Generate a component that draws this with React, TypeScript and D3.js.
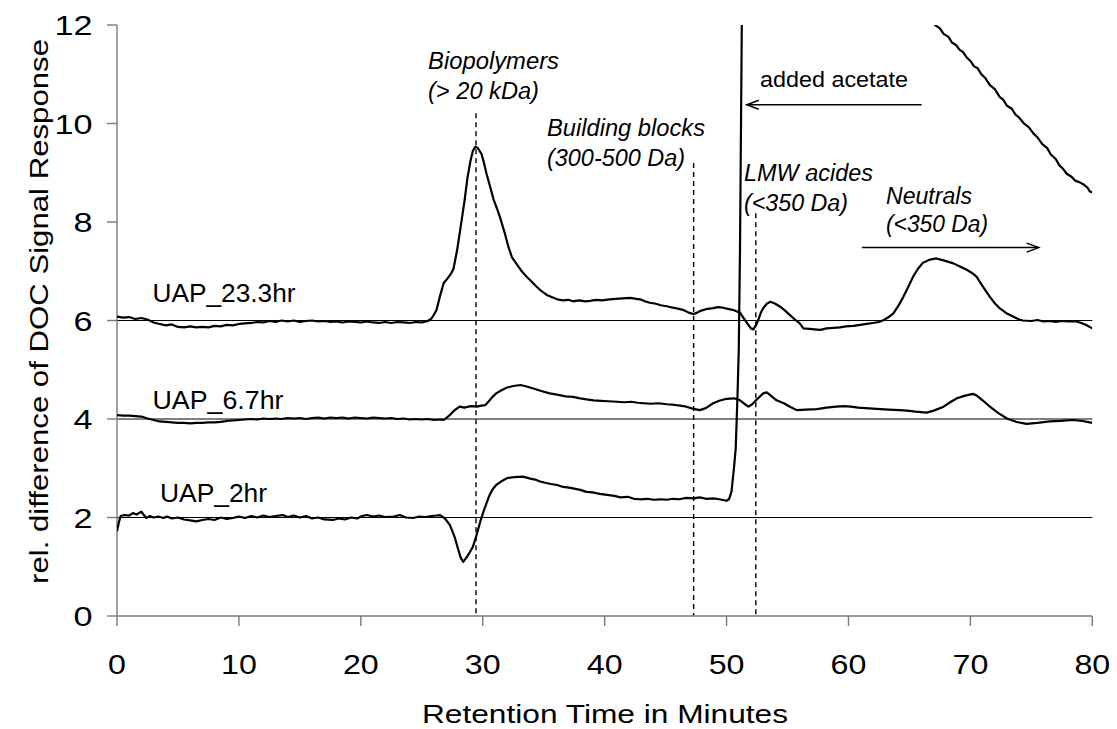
import React from "react";
import * as d3 from "d3";

// Axis ticks
const xTicks = [0, 10, 20, 30, 40, 50, 60, 70, 80];
const yTicks = [0, 2, 4, 6, 8, 10, 12];
// Offset baselines of the stacked chromatograms
const baselines = [2, 4, 6];

// Retention time (min) vs. relative DOC signal, UAP sample after 23.3 h (offset +6)
const uap233hr: [number, number][] = [
  [0, 6.08], [0.5, 6.06], [1, 6.07], [1.5, 6.03], [2, 6.05], [2.5, 6.02], [3, 5.96], [3.5, 5.93],
  [4, 5.9], [4.5, 5.92], [5, 5.87], [5.5, 5.86], [6, 5.88], [6.5, 5.86], [7, 5.87], [7.5, 5.86],
  [8, 5.89], [8.5, 5.88], [9, 5.91], [9.5, 5.9], [10, 5.93], [10.5, 5.94], [11, 5.95], [11.5, 5.97],
  [12, 5.96], [12.5, 5.99], [13, 5.97], [13.5, 6.0], [14, 5.98], [14.5, 6.0], [15, 5.97], [15.5, 5.99],
  [16, 6.0], [16.5, 5.98], [17, 5.99], [17.5, 5.97], [18, 5.98], [18.5, 5.96], [19, 5.98], [19.5, 5.97],
  [20, 5.96], [20.5, 5.98], [21, 5.96], [21.5, 5.95], [22, 5.97], [22.5, 5.95], [23, 5.97], [23.5, 5.96],
  [24, 5.95], [24.5, 5.97], [25, 5.96], [25.5, 5.99], [25.8, 6.04], [26.0, 6.12], [26.2, 6.21], [26.5, 6.5],
  [26.8, 6.76], [27.1, 6.85], [27.4, 6.95], [27.6, 7.05], [27.9, 7.43], [28.2, 7.92], [28.5, 8.42], [28.75, 8.9],
  [29.0, 9.25], [29.2, 9.45], [29.4, 9.53], [29.6, 9.5], [29.9, 9.38], [30.1, 9.2], [30.3, 8.99], [30.6, 8.72],
  [30.9, 8.45], [31.2, 8.25], [31.4, 8.11], [31.8, 7.78], [32.1, 7.5], [32.4, 7.28], [32.8, 7.14], [33.2, 7.0],
  [33.6, 6.89], [34.0, 6.79], [34.4, 6.69], [34.8, 6.6], [35.25, 6.52], [35.7, 6.47], [36.1, 6.43], [36.6, 6.41],
  [37.0, 6.42], [37.4, 6.39], [37.9, 6.41], [38.4, 6.39], [38.8, 6.4], [39.3, 6.42], [39.8, 6.41], [40.4, 6.43],
  [40.9, 6.44], [41.5, 6.45], [42.1, 6.46], [42.6, 6.44], [42.9, 6.43], [43.3, 6.39], [43.7, 6.36], [44.2, 6.34],
  [44.6, 6.31], [45.1, 6.29], [45.6, 6.26], [46.0, 6.24], [46.5, 6.21], [46.9, 6.16], [47.3, 6.13], [47.6, 6.16],
  [47.8, 6.19], [48.3, 6.23], [48.9, 6.25], [49.3, 6.27], [49.7, 6.26], [50.2, 6.23], [50.6, 6.21], [51.1, 6.16],
  [51.4, 6.05], [51.7, 5.94], [52.0, 5.84], [52.2, 5.82], [52.4, 5.9], [52.6, 6.01], [52.8, 6.15], [53.0, 6.25],
  [53.3, 6.34], [53.6, 6.38], [54.0, 6.34], [54.4, 6.28], [54.8, 6.2], [55.2, 6.11], [55.6, 6.02], [56.0, 5.94],
  [56.3, 5.84], [56.8, 5.83], [57.2, 5.82], [57.7, 5.81], [58.2, 5.84], [58.8, 5.85], [59.3, 5.86], [59.8, 5.88],
  [60.4, 5.89], [60.95, 5.91], [61.5, 5.93], [62.0, 5.95], [62.5, 5.97], [62.9, 6.01], [63.3, 6.07], [63.7, 6.15],
  [64.1, 6.3], [64.5, 6.48], [64.9, 6.68], [65.3, 6.89], [65.7, 7.05], [66.1, 7.17], [66.6, 7.23], [67.2, 7.26],
  [67.8, 7.22], [68.2, 7.19], [68.6, 7.16], [69.1, 7.1], [69.7, 7.03], [70.1, 6.97], [70.5, 6.89], [71.0, 6.7],
  [71.6, 6.48], [72.0, 6.35], [72.4, 6.25], [73.0, 6.14], [73.5, 6.08], [74.0, 6.02], [74.3, 6.0], [75.0, 5.99],
  [75.5, 6.01], [76.0, 5.98], [76.5, 5.99], [77.0, 5.97], [77.5, 5.99], [78.0, 5.98], [78.7, 5.98], [79.1, 5.95],
  [79.5, 5.91], [80, 5.84],
];

// UAP sample after 6.7 h (offset +4)
const uap67hr: [number, number][] = [
  [0, 4.08], [0.5, 4.07], [1, 4.07], [1.5, 4.06], [2, 4.05], [2.5, 4.01], [3, 3.98], [3.5, 3.95],
  [4, 3.94], [4.5, 3.93], [5, 3.92], [5.5, 3.92], [6, 3.91], [6.5, 3.92], [7, 3.92], [7.5, 3.93],
  [8, 3.93], [8.5, 3.94], [9, 3.96], [9.5, 3.97], [10, 3.98], [10.5, 3.99], [11, 4.0], [11.5, 3.99],
  [12, 4.01], [12.5, 4.0], [13, 4.01], [13.5, 4.0], [14, 4.02], [14.5, 4.01], [15, 4.02], [15.5, 4.0],
  [16, 4.02], [16.5, 4.03], [17, 4.01], [17.5, 4.03], [18, 4.02], [18.5, 4.03], [19, 4.01], [19.5, 4.03],
  [20, 4.02], [20.5, 4.01], [21, 4.03], [21.5, 4.02], [22, 4.01], [22.5, 4.02], [23, 4.0], [23.5, 4.01],
  [24, 3.99], [24.5, 4.0], [25, 3.99], [25.5, 4.0], [26, 3.98], [26.5, 3.99], [26.8, 3.98], [27.1, 4.04],
  [27.3, 4.08], [27.7, 4.18], [28.1, 4.25], [28.5, 4.23], [28.8, 4.25], [29.1, 4.26], [29.5, 4.25], [29.9, 4.27],
  [30.2, 4.28], [30.5, 4.36], [30.8, 4.45], [31.1, 4.52], [31.5, 4.58], [32.0, 4.64], [32.5, 4.67], [33.1, 4.69],
  [33.6, 4.66], [34.15, 4.62], [34.8, 4.57], [35.5, 4.52], [36.2, 4.49], [36.8, 4.46], [37.4, 4.45], [38.0, 4.42],
  [38.5, 4.4], [39.1, 4.38], [39.7, 4.37], [40.3, 4.36], [41.0, 4.35], [41.6, 4.34], [42.2, 4.35], [42.7, 4.33],
  [43.2, 4.32], [43.8, 4.31], [44.4, 4.32], [45.1, 4.3], [45.6, 4.29], [46.2, 4.27], [46.7, 4.25], [47.2, 4.21],
  [47.8, 4.18], [48.3, 4.22], [48.9, 4.32], [49.4, 4.37], [50.0, 4.41], [50.6, 4.42], [51.1, 4.38], [51.5, 4.3],
  [51.8, 4.25], [52.1, 4.3], [52.5, 4.4], [53.0, 4.52], [53.3, 4.54], [53.7, 4.46], [54.1, 4.38], [54.7, 4.32],
  [55.2, 4.25], [55.75, 4.18], [56.5, 4.19], [57.4, 4.2], [58.2, 4.23], [59.0, 4.25], [59.6, 4.26], [60.2, 4.25],
  [60.8, 4.23], [61.4, 4.22], [62.0, 4.21], [62.6, 4.2], [63.3, 4.19], [64.2, 4.18], [64.8, 4.17], [65.5, 4.15],
  [66.4, 4.13], [67.0, 4.17], [67.8, 4.25], [68.4, 4.35], [68.9, 4.42], [69.5, 4.47], [70.2, 4.51], [70.5, 4.48],
  [71.0, 4.38], [71.6, 4.25], [72.3, 4.12], [73.0, 4.01], [73.8, 3.94], [74.6, 3.9], [75.5, 3.92], [76.5, 3.95],
  [77.4, 3.96], [78.4, 3.98], [79.2, 3.96], [80, 3.92],
];

// UAP sample after 2 h (offset +2); includes the added-acetate peak, which leaves the axis range
const uap2hr: [number, number][] = [
  [0, 1.72], [0.15, 1.9], [0.3, 2.03], [0.6, 2.05], [1.0, 2.04], [1.3, 2.09], [1.6, 2.06], [2.0, 2.12],
  [2.2, 2.05], [2.4, 1.99], [2.7, 2.03], [3.0, 2.0], [3.4, 2.02], [3.8, 1.99], [4.1, 2.02], [4.5, 1.98],
  [5.0, 2.0], [5.5, 1.96], [6.0, 1.94], [6.5, 1.92], [7.0, 1.95], [7.5, 1.97], [8.0, 1.95], [8.5, 2.0],
  [9.0, 1.97], [9.5, 1.99], [10, 2.02], [10.5, 1.99], [11, 2.03], [11.5, 2.0], [12, 2.04], [12.5, 2.01],
  [13, 2.03], [13.6, 2.05], [14, 2.01], [14.5, 2.04], [15, 2.0], [15.5, 2.03], [16, 1.98], [16.5, 2.0],
  [17, 1.96], [17.7, 1.95], [18.2, 1.98], [18.7, 1.96], [19.2, 2.0], [19.7, 1.98], [20.1, 2.03], [20.5, 2.05],
  [21, 2.02], [21.5, 2.04], [22, 2.01], [22.7, 2.02], [23.2, 2.05], [23.7, 2.0], [24.3, 1.99], [24.8, 2.02],
  [25.3, 2.01], [25.8, 2.03], [26.2, 2.04], [26.5, 2.05], [26.9, 1.98], [27.3, 1.85], [27.7, 1.6], [28.0, 1.34],
  [28.2, 1.18], [28.4, 1.1], [28.7, 1.2], [29.0, 1.32], [29.2, 1.41], [29.5, 1.65], [29.8, 1.92], [30.1, 2.15],
  [30.5, 2.42], [30.8, 2.57], [31.1, 2.66], [31.5, 2.73], [32.0, 2.8], [32.6, 2.82], [33.3, 2.83], [33.9, 2.79],
  [34.3, 2.77], [34.7, 2.73], [35.2, 2.7], [35.6, 2.68], [36.1, 2.66], [36.6, 2.62], [37.2, 2.6], [37.6, 2.58],
  [38.0, 2.56], [38.5, 2.52], [39.0, 2.51], [39.6, 2.48], [40.2, 2.46], [40.8, 2.44], [41.3, 2.41], [41.9, 2.42],
  [42.4, 2.38], [42.9, 2.37], [43.5, 2.38], [44.0, 2.36], [44.6, 2.37], [45.1, 2.36], [45.6, 2.38], [46.1, 2.37],
  [46.7, 2.4], [47.3, 2.39], [47.8, 2.41], [48.3, 2.38], [48.9, 2.39], [49.4, 2.37], [50.0, 2.34], [50.2, 2.37],
  [50.4, 2.52], [50.6, 2.98], [50.75, 3.4], [50.9, 4.5], [51.0, 5.4], [51.1, 7.4], [51.25, 12.0], [51.45, 15.8],
  [52.5, 18.6], [54.5, 19.2], [57, 18.2], [60, 15.8], [63, 13.6], [65.5, 12.5], [67.1, 12.0], [67.5, 11.93],
  [67.8, 11.82], [68.2, 11.76], [68.5, 11.64], [68.8, 11.6], [69.1, 11.5], [69.4, 11.45], [69.7, 11.34], [70.0, 11.27],
  [70.3, 11.16], [70.6, 11.12], [70.9, 11.0], [71.2, 10.93], [71.6, 10.78], [72.0, 10.7], [72.4, 10.54], [72.7, 10.48],
  [73.0, 10.36], [73.4, 10.3], [73.7, 10.18], [74.0, 10.12], [74.4, 10.0], [74.8, 9.92], [75.2, 9.79], [75.5, 9.72],
  [75.9, 9.58], [76.3, 9.5], [76.6, 9.37], [77.0, 9.28], [77.3, 9.15], [77.6, 9.08], [77.9, 8.98], [78.3, 8.92],
  [78.6, 8.84], [79.0, 8.8], [79.3, 8.76], [79.6, 8.7], [79.8, 8.62], [80, 8.6],
];

// Fraction markers: retention time and top of the dashed guide
const fractionTimes = [29.45, 47.3, 52.4];
const fractionTops = [10.21, 9.2, 8.18];

const W = 1117;
const H = 729;
const FONT = "'Liberation Sans', Arial, Helvetica, sans-serif";

const x = d3.scaleLinear().domain([0, 80]).range([117, 1092.3]);
const y = d3.scaleLinear().domain([0, 12]).range([616, 25]);

const line = d3
  .line<[number, number]>()
  .x((d) => x(d[0]))
  .y((d) => y(d[1]))
  .curve(d3.curveLinear);

type LabelProps = {
  px: number;
  py: number;
  text: string;
  size: number;
  length: number;
  italic?: boolean;
  anchor?: "start" | "middle" | "end";
  rotate?: number;
};

function Label({ px, py, text, size, length, italic, anchor = "start", rotate = 0 }: LabelProps) {
  return (
    <text
      x={px}
      y={py}
      fontSize={size}
      fontFamily={FONT}
      fontStyle={italic ? "italic" : "normal"}
      textAnchor={anchor}
      textLength={length}
      lengthAdjust="spacingAndGlyphs"
      transform={rotate ? `rotate(${rotate},${px},${py})` : undefined}
      fill="#000"
    >
      {text}
    </text>
  );
}

function Arrow({ x1, x2, yv }: { x1: number; x2: number; yv: number }) {
  const a = x(x1);
  const b = x(x2);
  const yy = y(yv);
  const dir = b > a ? -1 : 1;
  return (
    <g stroke="#000" strokeWidth={1.5} fill="none">
      <line x1={a} y1={yy} x2={b} y2={yy} />
      <path d={`M${b + dir * 12},${yy - 4.5} L${b},${yy} L${b + dir * 12},${yy + 4.5}`} />
    </g>
  );
}

export default function App() {
  const [x0, x1] = x.range();
  const [y0, y1] = y.range();
  const axisColor = "#7a7a7a";
  return (
    <svg
      width={W}
      height={H}
      viewBox={`0 0 ${W} ${H}`}
      style={{ position: "absolute", left: 0, top: 0, background: "#fff" }}
    >
      <defs>
        <clipPath id="plot-clip">
          <rect x={x0} y={y1} width={x1 - x0} height={y0 - y1} />
        </clipPath>
      </defs>
      <rect x={0} y={0} width={W} height={H} fill="#fff" />

      {/* baselines of the offset traces */}
      {baselines.map((b) => (
        <line key={b} x1={x0} x2={x1} y1={y(b)} y2={y(b)} stroke="#000" strokeWidth={1} />
      ))}

      {/* dashed fraction guides */}
      {fractionTimes.map((t, i) => (
        <line
          key={t}
          x1={x(t)}
          x2={x(t)}
          y1={y(fractionTops[i])}
          y2={y(0)}
          stroke="#000"
          strokeWidth={1.4}
          strokeDasharray="5,4"
        />
      ))}

      {/* axes */}
      <line x1={x0} x2={x0} y1={y1} y2={y0} stroke={axisColor} strokeWidth={1.4} />
      <line x1={x0} x2={x1} y1={y0} y2={y0} stroke={axisColor} strokeWidth={1.4} />
      {yTicks.map((t) => (
        <g key={`y${t}`}>
          <line x1={x0 - 10} x2={x0} y1={y(t)} y2={y(t)} stroke={axisColor} strokeWidth={1.4} />
          <text
            transform={`translate(92.5,${y(t) + 10}) scale(1.2,1)`}
            textAnchor="end"
            fontSize={28.5}
            fontFamily={FONT}
            fill="#000"
          >
            {t}
          </text>
        </g>
      ))}
      {xTicks.map((t) => (
        <g key={`x${t}`}>
          <line x1={x(t)} x2={x(t)} y1={y0} y2={y0 + 10} stroke={axisColor} strokeWidth={1.4} />
          <text
            transform={`translate(${x(t)},673.5) scale(1.13,1)`}
            textAnchor="middle"
            fontSize={28.5}
            fontFamily={FONT}
            fill="#000"
          >
            {t}
          </text>
        </g>
      ))}

      {/* traces */}
      <g clipPath="url(#plot-clip)" fill="none" stroke="#000" strokeWidth={2.2} strokeLinejoin="round">
        <path d={line(uap233hr) ?? ""} />
        <path d={line(uap67hr) ?? ""} />
        <path d={line(uap2hr) ?? ""} />
      </g>

      {/* arrows */}
      <Arrow x1={66.0} x2={51.66} yv={10.38} />
      <Arrow x1={61.1} x2={75.6} yv={7.48} />

      {/* series labels */}
      <Label px={152.5} py={302} text="UAP_23.3hr" size={25} length={143} />
      <Label px={152.5} py={408.5} text="UAP_6.7hr" size={25} length={131} />
      <Label px={160} py={502} text="UAP_2hr" size={25} length={107} />

      {/* fraction annotations */}
      <Label px={428} py={69} text="Biopolymers" size={23.5} length={131} italic />
      <Label px={428} py={98.5} text="(> 20 kDa)" size={23.5} length={111} italic />
      <Label px={547} py={136} text="Building blocks" size={23.5} length={158} italic />
      <Label px={547} py={166} text="(300-500 Da)" size={23.5} length={138} italic />
      <Label px={744} py={181} text="LMW acides" size={23.5} length={129} italic />
      <Label px={744} py={210.5} text="(<350 Da)" size={23.5} length={104} italic />
      <Label px={886} py={203.5} text="Neutrals" size={23.5} length={86} italic />
      <Label px={886} py={232} text="(<350 Da)" size={23.5} length={102} italic />
      <Label px={760} py={87} text="added acetate" size={22.5} length={148} />

      {/* axis titles */}
      <Label px={605} py={722.5} text="Retention Time in Minutes" size={26} length={366} anchor="middle" />
      <Label
        px={47.5}
        py={311.5}
        text="rel. difference of DOC Signal Response"
        size={26}
        length={545}
        anchor="middle"
        rotate={-90}
      />
    </svg>
  );
}
